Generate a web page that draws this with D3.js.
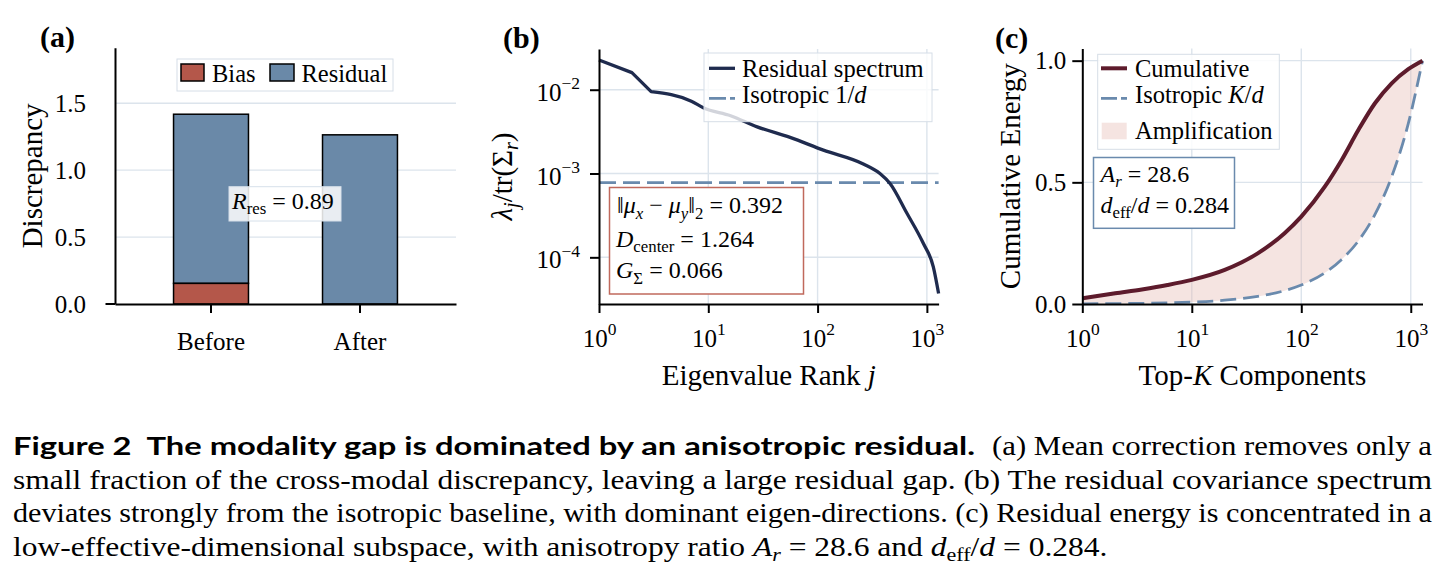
<!DOCTYPE html>
<html><head><meta charset="utf-8">
<script src="https://cdn.jsdelivr.net/npm/d3@7"></script>
<style>
html,body{margin:0;padding:0;background:#fff;}
svg{display:block;}
</style></head><body>
<svg id="fig" width="1450" height="577" font-family="'Liberation Serif','Times New Roman',serif"></svg>
<script>
// ---------------- data ----------------
const barCategories = ["Before", "After"];
const biasValues = [0.154, 0];
const residualValues = [1.264, 1.264];
const barYTicks = [0, 0.5, 1.0, 1.5];
const rResText = "0.89";

const spectrumRank  = [1, 2, 3, 7, 9, 16, 28, 56, 113, 262, 372, 460, 653, 927, 1145, 1280];
const spectrumValue = [0.0226, 0.0160, 0.0095, 0.0073, 0.0061, 0.0049, 0.0036, 0.0027, 0.0019, 0.0013, 0.00100, 0.00076, 0.00034, 0.000147, 0.000077, 0.000037];
const isotropicLevel = [0.00078, 0.00078];   // 1/d, drawn across the full rank range
const isotropicRank  = [1, 1280];
const logXTicks = [1, 10, 100, 1000];
const logXExp = ["0", "1", "2", "3"];
const spectrumYTicks = [1e-2, 1e-3, 1e-4];
const spectrumYExp = ["\u22122", "\u22123", "\u22124"];

const topK             = [1, 2, 3.5, 6, 10, 20, 40, 70, 100, 164, 234, 332, 471, 669, 949, 1280];
const cumulativeEnergy = [0.023, 0.044, 0.060, 0.078, 0.099, 0.140, 0.208, 0.290, 0.359, 0.482, 0.592, 0.715, 0.825, 0.907, 0.965, 1.0];
const isotropicEnergy  = [0.0008, 0.0016, 0.0027, 0.0047, 0.0078, 0.0156, 0.0313, 0.0547, 0.0781, 0.128, 0.183, 0.259, 0.368, 0.523, 0.741, 1.0];
const energyYTicks = [0, 0.5, 1.0];

// ---------------- style ----------------
const SERIF = "'Liberation Serif','Times New Roman',serif";
const gridColor = "#dce4ec";
const biasColor = "#b4574a";
const resColor = "#6a89a8";
const navy = "#1f2b4e";
const dashBlue = "#6a8aad";
const wine = "#5d1b2c";
const TICK_FS = 25, LABEL_FS = 29, LEG_FS = 24.5;

const svg = d3.select("#fig");

function rich(sel, parts, base) {
  let shift = 0;
  parts.forEach(p => {
    const ts = sel.append("tspan").text(p.t);
    let fs = base, target = 0;
    if (p.sub) { fs = base * 0.7; target = base * 0.22; }
    if (p.sup) { fs = base * 0.7; target = -base * 0.45; }
    ts.attr("font-size", fs);
    if (p.i) ts.attr("font-style", "italic");
    const dy = target - shift;
    if (dy !== 0) ts.attr("dy", dy);
    shift = target;
  });
  return sel;
}
function styleAxis(g) {
  g.attr("font-family", SERIF).attr("font-size", TICK_FS);
  g.select(".domain").attr("stroke-width", 2).attr("stroke", "#000");
  g.selectAll(".tick line").attr("stroke-width", 2).attr("stroke", "#000");
  g.selectAll(".tick text").attr("fill", "#000");
}

// ================= Panel (a) =================
{
  const L = 115, R = 456, T = 47.7, B = 304;
  const x = d3.scaleBand().domain(barCategories).range([L, R]).paddingInner(0.497).paddingOuter(0.393);
  const y = d3.scaleLinear().domain([0, 1.915]).range([B, T]);
  const g = svg.append("g");
  g.selectAll("line.grid").data(barYTicks.filter(v => v > 0)).join("line")
    .attr("x1", L).attr("x2", R).attr("y1", d => y(d)).attr("y2", d => y(d))
    .attr("stroke", gridColor).attr("stroke-width", 1.4);
  const totals = barCategories.map((c, i) => biasValues[i] + residualValues[i]);
  g.selectAll("rect.res").data(barCategories).join("rect")
    .attr("x", d => x(d)).attr("width", x.bandwidth())
    .attr("y", (d, i) => y(totals[i]))
    .attr("height", (d, i) => y(biasValues[i]) - y(totals[i]))
    .attr("fill", resColor).attr("stroke", "#000").attr("stroke-width", 1.5);
  g.selectAll("rect.bias").data(barCategories.filter((c, i) => biasValues[i] > 0)).join("rect")
    .attr("x", d => x(d)).attr("width", x.bandwidth())
    .attr("y", d => y(biasValues[barCategories.indexOf(d)]))
    .attr("height", d => y(0) - y(biasValues[barCategories.indexOf(d)]))
    .attr("fill", biasColor).attr("stroke", "#000").attr("stroke-width", 1.5);

  const xa = g.append("g").attr("transform", `translate(0,${B})`)
    .call(d3.axisBottom(x).tickSize(9).tickSizeOuter(0));
  styleAxis(xa);
  xa.selectAll(".tick text").attr("y", 46).attr("dy", null);
  const ya = g.append("g").attr("transform", `translate(${L},0)`)
    .call(d3.axisLeft(y).tickValues(barYTicks).tickSize(0).tickPadding(29).tickSizeOuter(0).tickFormat(d3.format(".1f")));
  styleAxis(ya);
  g.append("line").attr("x1", L - 9.5).attr("x2", L).attr("y1", y(0)).attr("y2", y(0)).attr("stroke", "#000").attr("stroke-width", 2);

  g.append("text").attr("transform", `translate(41.7,${(T + B) / 2}) rotate(-90)`)
    .attr("text-anchor", "middle").attr("font-size", LABEL_FS).text("Discrepancy");
  g.append("text").attr("x", 40).attr("y", 47).attr("font-weight", "bold").attr("font-size", 30).text("(a)");

  g.append("rect").attr("x", 177).attr("y", 59).attr("width", 216).attr("height", 32)
    .attr("fill", "#fff").attr("fill-opacity", 0.85).attr("stroke", "#d6dee7").attr("stroke-width", 1);
  g.append("rect").attr("x", 181).attr("y", 64).attr("width", 23).attr("height", 17)
    .attr("fill", biasColor).attr("stroke", "#000").attr("stroke-width", 1.5);
  g.append("text").attr("x", 212).attr("y", 81.5).attr("font-size", LEG_FS).text("Bias");
  g.append("rect").attr("x", 270).attr("y", 64).attr("width", 24).attr("height", 17)
    .attr("fill", resColor).attr("stroke", "#000").attr("stroke-width", 1.5);
  g.append("text").attr("x", 301.5).attr("y", 81.5).attr("font-size", LEG_FS).text("Residual");

  g.append("rect").attr("x", 229).attr("y", 186.7).attr("width", 112).attr("height", 34.3)
    .attr("fill", "#fff").attr("fill-opacity", 0.85).attr("stroke", "#d6e0ea").attr("stroke-width", 1);
  rich(g.append("text").attr("x", 232).attr("y", 209).attr("font-size", 24),
    [{t: "R", i: true}, {t: "res", sub: true}, {t: " = " + rResText}], 24);
}

// ================= Panel (b) =================
{
  const L = 599, R = 938.6, T = 49, B = 304;
  const x = d3.scaleLog().domain([1, 1280]).range([L, R]);
  const y = d3.scaleLog().domain([Math.pow(10, -4.557), Math.pow(10, -1.514)]).range([B, T]);
  const g = svg.append("g");
  g.selectAll("line.gx").data(logXTicks.slice(1)).join("line")
    .attr("x1", d => x(d)).attr("x2", d => x(d)).attr("y1", T).attr("y2", B)
    .attr("stroke", gridColor).attr("stroke-width", 1.4);
  g.selectAll("line.gy").data(spectrumYTicks).join("line")
    .attr("x1", L).attr("x2", R).attr("y1", d => y(d)).attr("y2", d => y(d))
    .attr("stroke", gridColor).attr("stroke-width", 1.4);

  g.append("path").datum(isotropicRank.map((r, i) => [r, isotropicLevel[i]]))
    .attr("d", d3.line().x(d => x(d[0])).y(d => y(d[1])))
    .attr("fill", "none").attr("stroke", dashBlue).attr("stroke-width", 2.8).attr("stroke-dasharray", "17,7");
  const spec = spectrumRank.map((r, i) => [r, spectrumValue[i]]);
  const head = spec.filter(d => d[0] <= 3), tail = spec.filter(d => d[0] >= 3);
  const dHead = d3.line().x(d => x(d[0])).y(d => y(d[1])).curve(d3.curveLinear)(head);
  const dTail = d3.line().x(d => x(d[0])).y(d => y(d[1])).curve(d3.curveMonotoneX)(tail);
  g.append("path").attr("d", dHead + dTail.replace(/^M[^A-Z]*/, m => "L" + m.slice(1)))
    .attr("fill", "none").attr("stroke", navy).attr("stroke-width", 3.3).attr("stroke-linejoin", "round");

  const xa = g.append("g").attr("transform", `translate(0,${B})`)
    .call(d3.axisBottom(x).tickValues(logXTicks).tickSize(9).tickSizeOuter(0).tickFormat(() => ""));
  styleAxis(xa);
  xa.selectAll(".tick text").each(function(d, i) {
    const t = d3.select(this).attr("y", 42.7).attr("dy", null).text(null);
    rich(t, [{t: "10"}, {t: logXExp[i], sup: true}], TICK_FS);
  });
  const ya = g.append("g").attr("transform", `translate(${L},0)`)
    .call(d3.axisLeft(y).tickValues(spectrumYTicks).tickSize(9).tickPadding(10).tickSizeOuter(0).tickFormat(() => ""));
  styleAxis(ya);
  ya.selectAll(".tick text").each(function(d, i) {
    const t = d3.select(this).attr("dy", "0.42em").text(null);
    rich(t, [{t: "10"}, {t: spectrumYExp[i], sup: true}], TICK_FS);
  });

  const lab = g.append("text").attr("x", (L + R) / 2).attr("y", 385).attr("text-anchor", "middle").attr("font-size", LABEL_FS);
  rich(lab, [{t: "Eigenvalue Rank "}, {t: "j", i: true}], LABEL_FS);
  const yl = g.append("text").attr("transform", `translate(512,${(T + B) / 2}) rotate(-90)`).attr("text-anchor", "middle").attr("font-size", LABEL_FS);
  rich(yl, [{t: "\u03BB", i: true}, {t: "j", i: true, sub: true}, {t: "/tr(\u03A3"}, {t: "r", i: true, sub: true}, {t: ")"}], LABEL_FS);
  g.append("text").attr("x", 503).attr("y", 48).attr("font-weight", "bold").attr("font-size", 30).text("(b)");

  g.append("rect").attr("x", 704).attr("y", 53).attr("width", 228).attr("height", 68.7)
    .attr("fill", "#fff").attr("fill-opacity", 0.8).attr("stroke", "#d6dee7").attr("stroke-width", 1);
  g.append("line").attr("x1", 709).attr("x2", 735).attr("y1", 68.3).attr("y2", 68.3).attr("stroke", navy).attr("stroke-width", 3.3);
  g.append("text").attr("x", 742).attr("y", 76.7).attr("font-size", LEG_FS).text("Residual spectrum");
  g.append("line").attr("x1", 709).attr("x2", 735).attr("y1", 98.3).attr("y2", 98.3).attr("stroke", dashBlue).attr("stroke-width", 2.8).attr("stroke-dasharray", "17,4");
  rich(g.append("text").attr("x", 742).attr("y", 103.3).attr("font-size", LEG_FS), [{t: "Isotropic 1/"}, {t: "d", i: true}], LEG_FS);

  g.append("rect").attr("x", 609.5).attr("y", 187.5).attr("width", 194).attr("height", 106.5)
    .attr("fill", "#fff").attr("stroke", "#c0695c").attr("stroke-width", 1.5);
  const SF = 24;
  rich(g.append("text").attr("x", 617).attr("y", 213.3).attr("font-size", SF),
    [{t: "\u2016"}, {t: "\u03BC", i: true}, {t: "x", i: true, sub: true}, {t: " \u2212 "}, {t: "\u03BC", i: true}, {t: "y", i: true, sub: true}, {t: "\u2016"}, {t: "2", sub: true}, {t: " = 0.392"}], SF);
  rich(g.append("text").attr("x", 616).attr("y", 246.7).attr("font-size", SF),
    [{t: "D", i: true}, {t: "center", sub: true}, {t: " = 1.264"}], SF);
  rich(g.append("text").attr("x", 616).attr("y", 278.3).attr("font-size", SF),
    [{t: "G", i: true}, {t: "\u03A3", sub: true}, {t: " = 0.066"}], SF);
}

// ================= Panel (c) =================
{
  const L = 1082.3, R = 1422.5, T = 48.5, B = 304;
  const x = d3.scaleLog().domain([1, 1280]).range([L, R]);
  const y = d3.scaleLinear().domain([0, 1.05]).range([B, T]);
  const g = svg.append("g");
  g.selectAll("line.gx").data(logXTicks.slice(1)).join("line")
    .attr("x1", d => x(d)).attr("x2", d => x(d)).attr("y1", T).attr("y2", B)
    .attr("stroke", gridColor).attr("stroke-width", 1.4);
  g.selectAll("line.gy").data(energyYTicks.filter(v => v > 0)).join("line")
    .attr("x1", L).attr("x2", R).attr("y1", d => y(d)).attr("y2", d => y(d))
    .attr("stroke", gridColor).attr("stroke-width", 1.4);

  const pts = topK.map((k, i) => ({k, c: cumulativeEnergy[i], s: isotropicEnergy[i]}));
  g.append("path").datum(pts)
    .attr("d", d3.area().x(d => x(d.k)).y0(d => y(d.s)).y1(d => y(d.c)).curve(d3.curveMonotoneX))
    .attr("fill", "#e4b9b1").attr("fill-opacity", 0.38);
  g.append("path").datum(pts)
    .attr("d", d3.line().x(d => x(d.k)).y(d => y(d.s)).curve(d3.curveMonotoneX))
    .attr("fill", "none").attr("stroke", dashBlue).attr("stroke-width", 2.8).attr("stroke-dasharray", "16,7");
  g.append("path").datum(pts)
    .attr("d", d3.line().x(d => x(d.k)).y(d => y(d.c)).curve(d3.curveMonotoneX))
    .attr("fill", "none").attr("stroke", wine).attr("stroke-width", 4);

  const xa = g.append("g").attr("transform", `translate(0,${B})`)
    .call(d3.axisBottom(x).tickValues(logXTicks).tickSize(9).tickSizeOuter(0).tickFormat(() => ""));
  styleAxis(xa);
  xa.selectAll(".tick text").each(function(d, i) {
    const t = d3.select(this).attr("y", 42.7).attr("dy", null).text(null);
    rich(t, [{t: "10"}, {t: logXExp[i], sup: true}], TICK_FS);
  });
  const ya = g.append("g").attr("transform", `translate(${L},0)`)
    .call(d3.axisLeft(y).tickValues(energyYTicks).tickSize(10).tickPadding(6).tickSizeOuter(0).tickFormat(d3.format(".1f")));
  styleAxis(ya);

  const lab = g.append("text").attr("x", (L + R) / 2).attr("y", 385).attr("text-anchor", "middle").attr("font-size", LABEL_FS);
  rich(lab, [{t: "Top-"}, {t: "K", i: true}, {t: " Components"}], LABEL_FS);
  g.append("text").attr("transform", `translate(1020,${(T + B) / 2}) rotate(-90)`).attr("text-anchor", "middle")
    .attr("font-size", LABEL_FS).text("Cumulative Energy");
  g.append("text").attr("x", 995).attr("y", 48).attr("font-weight", "bold").attr("font-size", 30).text("(c)");

  g.append("rect").attr("x", 1097.7).attr("y", 54.3).attr("width", 181.6).attr("height", 95)
    .attr("fill", "#fff").attr("fill-opacity", 0.85).attr("stroke", "#d6dee7").attr("stroke-width", 1);
  g.append("line").attr("x1", 1101).attr("x2", 1127).attr("y1", 68.3).attr("y2", 68.3).attr("stroke", wine).attr("stroke-width", 4);
  g.append("text").attr("x", 1135).attr("y", 77.3).attr("font-size", LEG_FS).text("Cumulative");
  g.append("line").attr("x1", 1101).attr("x2", 1127).attr("y1", 98.3).attr("y2", 98.3).attr("stroke", dashBlue).attr("stroke-width", 2.8).attr("stroke-dasharray", "16,4");
  rich(g.append("text").attr("x", 1135).attr("y", 103.3).attr("font-size", LEG_FS), [{t: "Isotropic "}, {t: "K", i: true}, {t: "/"}, {t: "d", i: true}], LEG_FS);
  g.append("rect").attr("x", 1101.7).attr("y", 122.7).attr("width", 25).attr("height", 16.6)
    .attr("fill", "#e4b9b1").attr("fill-opacity", 0.38);
  g.append("text").attr("x", 1135).attr("y", 139).attr("font-size", LEG_FS).text("Amplification");

  g.append("rect").attr("x", 1093.5).attr("y", 157.5).attr("width", 141).attr("height", 70.8)
    .attr("fill", "#fff").attr("stroke", dashBlue).attr("stroke-width", 1.5);
  const SF = 24;
  rich(g.append("text").attr("x", 1100.5).attr("y", 181.7).attr("font-size", SF),
    [{t: "A", i: true}, {t: "r", i: true, sub: true}, {t: " = 28.6"}], SF);
  rich(g.append("text").attr("x", 1100.5).attr("y", 213).attr("font-size", SF),
    [{t: "d", i: true}, {t: "eff", sub: true}, {t: "/"}, {t: "d", i: true}, {t: " = 0.284"}], SF);
}

// ================= Caption =================
{
  const capX = 13, capR = 1432;
  const capY = [455, 488.5, 522, 555.5];
  const CF = 26.5;
  const g = svg.append("g");
  g.append("text").attr("x", capX).attr("y", capY[0])
    .attr("font-family", "Lato, 'Noto Sans', sans-serif").attr("font-weight", 700).attr("font-size", 25)
    .attr("xml:space", "preserve").style("white-space", "pre")
    .attr("textLength", 962).attr("lengthAdjust", "spacingAndGlyphs")
    .text("Figure 2  The modality gap is dominated by an anisotropic residual.");
  g.append("text").attr("x", 992).attr("y", capY[0]).attr("font-size", CF)
    .attr("textLength", capR - 992).attr("lengthAdjust", "spacingAndGlyphs")
    .text("(a) Mean correction removes only a");
  const l2 = g.append("text").attr("x", capX).attr("y", capY[1]).attr("font-size", CF)
    .text("small fraction of the cross-modal discrepancy, leaving a large residual gap. (b) The residual covariance spectrum");
  const nat2 = l2.node().getComputedTextLength();
  const ratio = (capR - capX) / nat2;
  l2.attr("textLength", capR - capX).attr("lengthAdjust", "spacingAndGlyphs");
  g.append("text").attr("x", capX).attr("y", capY[2]).attr("font-size", CF)
    .attr("textLength", capR - capX).attr("lengthAdjust", "spacingAndGlyphs")
    .text("deviates strongly from the isotropic baseline, with dominant eigen-directions. (c) Residual energy is concentrated in a");
  const l4 = g.append("text").attr("x", capX).attr("y", capY[3]).attr("font-size", CF);
  rich(l4, [{t: "low-effective-dimensional subspace, with anisotropy ratio "}, {t: "A", i: true}, {t: "r", i: true, sub: true},
            {t: " = 28.6 and "}, {t: "d", i: true}, {t: "eff", sub: true}, {t: "/"}, {t: "d", i: true}, {t: " = 0.284."}], CF);
  const nat4 = l4.node().getComputedTextLength();
  l4.attr("textLength", nat4 * ratio).attr("lengthAdjust", "spacingAndGlyphs");
}
</script>
</body></html>
